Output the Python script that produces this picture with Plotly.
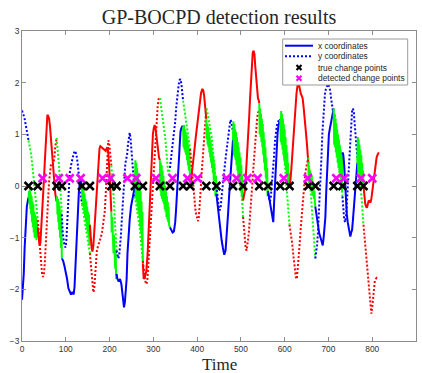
import plotly.graph_objects as go

# ---- data -------------------------------------------------------------
# (time, value) samples of the x coordinate track
x_track = [
    (0, -2.2), (2, -2.0), (4, -1.7), (6, -1.2), (8.5, -0.7), (11, -0.4), (13, -0.3), (15, -0.22),
    (16, -0.1), (17, -0.35), (18, -0.05), (19, -0.45), (20, -0.15), (21, -0.55), (22, -0.2), (23, -0.7),
    (24, -0.3), (25, -0.8), (26, -0.35), (27, -0.9), (28, -0.5), (29, -1.0), (30, -0.55), (31, -1.0),
    (32, -0.6), (33, -1.05), (34, -0.7), (35, -1.0), (36, -0.8),
    (38, -1.05), (40, -1.15), (42, -1.1), (44, -0.85), (46, -0.55), (48, -0.3), (50, 0.1), (52, 0.45),
    (54, 0.85), (56, 1.2), (58, 1.38), (60, 1.35), (62, 1.3), (64, 1.15), (66, 0.95), (68, 0.75),
    (70, 0.5), (72, 0.2), (74, 0.0), (76, -0.15), (79, -0.3),
    (80, -0.2), (81, -0.55), (82, -0.25), (83, -0.7), (84, -0.3), (85, -0.85), (86, -0.4), (87, -1.0),
    (88, -0.5), (89, -1.2), (90, -0.65), (91, -1.4),
    (94, -1.45), (97, -1.55), (100, -1.65), (103, -1.8), (106, -1.98), (109, -2.05), (112, -2.1),
    (115, -2.05), (118, -2.1), (120, -1.95), (122, -1.6), (124, -1.1), (126, -0.65), (128, -0.3),
    (130, -0.1), (132, 0.05), (134, 0.1), (137, 0.0),
    (138, -0.25), (139, -0.05), (140, -0.4), (141, -0.1), (142, -0.5), (143, -0.15), (144, -0.6),
    (145, -0.25), (146, -0.7), (147, -0.3), (148, -0.8), (149, -0.4), (150, -0.9), (151, -0.5),
    (152, -1.0), (153, -0.55), (154, -1.15), (155, -0.75),
    (157, -1.0), (159, -1.2), (161, -1.27), (163, -1.15), (165, -0.9), (167, -0.6), (169, -0.35),
    (171, -0.1), (173, 0.3), (175, 0.6), (177, 0.72), (179, 0.77), (182, 0.75), (185, 0.72),
    (188, 0.7), (191, 0.68), (193, 0.72), (195, 0.75), (197, 0.65), (199, 0.4), (201, 0.1), (204, -0.5),
    (205, -0.9), (206, -0.6), (207, -1.1), (208, -0.8), (209, -1.3), (210, -0.95), (211, -1.45),
    (212, -1.1), (213, -1.6), (214, -1.25), (215, -1.8), (216, -1.7),
    (218, -1.8), (221, -1.85), (224, -1.8), (227, -1.9), (229, -2.05), (231, -2.25), (233, -2.35),
    (235, -2.25), (237, -2.05), (239, -1.8), (241, -1.3), (243, -1.0), (246, -0.65), (249, -0.4),
    (252, -0.25), (255, -0.15), (258, 0.0),
    (259, 0.5), (260, -0.2), (261, 0.45), (262, -0.3), (263, 0.35), (264, -0.4), (265, 0.25),
    (266, -0.5), (267, 0.1), (268, -0.6), (269, 0.0), (270, -0.8), (271, -0.1), (272, -0.9),
    (273, -0.3), (274, -1.1), (275, -0.5), (276, -1.5),
    (278, -1.8), (281, -1.75), (284, -1.65), (287, -1.3), (289, -0.9), (291, -0.5), (293, -0.2),
    (295, 0.4), (297, 0.8), (299, 1.0), (301, 1.12), (303, 1.18), (305, 1.12), (307, 0.95),
    (309, 0.8), (311, 0.65), (313, 0.55), (315, 0.5),
    (316, -0.1), (317, 0.45), (318, -0.2), (319, 0.4), (320, -0.25), (321, 0.3), (322, -0.3),
    (323, 0.2), (324, -0.35), (325, 0.1), (326, -0.45), (327, 0.0), (328, -0.5), (329, -0.1),
    (330, -0.6), (331, -0.2), (332, -0.65), (333, -0.3), (334, -0.7), (335, -0.4), (336, -0.75),
    (338, -0.8),
    (341, -0.85), (344, -0.9), (347, -0.88), (350, -0.7), (352, -0.45), (354, -0.15), (356, 0.2),
    (358, 0.55), (360, 0.85), (362, 1.05), (364, 1.12), (366, 1.15), (368, 1.15),
    (369, 0.75), (370, 1.18), (371, 0.7), (372, 1.1), (373, 0.65), (374, 1.05), (375, 0.6),
    (376, 1.0), (377, 0.5), (378, 0.9), (379, 0.4), (380, 0.8), (381, 0.3), (382, 0.7), (383, 0.2),
    (384, 0.1),
    (386, 0.05), (388, 0.25), (390, 0.45), (393, 0.63), (397, 0.95), (401, 1.27), (405, 1.55),
    (409, 1.8), (412, 1.88), (414, 1.85), (416, 1.75), (418, 1.6), (420, 1.4), (421, 1.3),
    (422, 0.9), (423, 1.2), (424, 0.8), (425, 1.15), (426, 0.75), (427, 1.05), (428, 0.65),
    (429, 0.95), (430, 0.55), (431, 0.85), (432, 0.45), (433, 0.75), (434, 0.35), (435, 0.65),
    (436, 0.25), (437, 0.55), (438, 0.1), (439, 0.45), (440, 0.0), (441, 0.3), (442, -0.2),
    (443, 0.2), (444, -0.15),
    (447, -0.4), (450, -0.65), (453, -0.85), (456, -1.05), (459, -1.2), (462, -1.33), (465, -1.25),
    (467, -1.05), (469, -0.8), (471, -0.5), (473, -0.2), (475, 0.1), (477, 0.37), (479, 0.6),
    (481, 0.82), (482, 0.9),
    (483, 1.25), (484, 0.6), (485, 1.2), (486, 0.55), (487, 1.1), (488, 0.5), (489, 1.05),
    (490, 0.4), (491, 0.95), (492, 0.3), (493, 0.85), (494, 0.2), (495, 0.75), (496, 0.1),
    (497, 0.65), (498, 0.0), (499, 0.55), (500, -0.1), (501, 0.4), (502, -0.2), (503, 0.2),
    (504, -0.25), (505, -0.28),
    (507, -0.2), (509, -0.1), (511, 0.15), (513, 0.4), (515, 0.7), (517, 1.0), (519, 1.35),
    (521, 1.7), (523, 2.05), (525, 2.35), (527, 2.58), (529, 2.62), (531, 2.55), (533, 2.3),
    (535, 2.05), (537, 1.85), (539, 1.7), (541, 1.65), (542, 1.6),
    (543, 1.0), (544, 1.5), (545, 0.95), (546, 1.4), (547, 0.85), (548, 1.3), (549, 0.75),
    (550, 1.2), (551, 0.6), (552, 1.05), (553, 0.45), (554, 0.9), (555, 0.3), (556, 0.75),
    (557, 0.15), (558, 0.55), (559, 0.0), (560, 0.35), (561, -0.2), (562, -0.1),
    (564, -0.2), (566, -0.34), (568, -0.45), (570, -0.55), (572, -0.65), (574, -0.7), (576, -0.3),
    (578, 0.1), (580, 0.5), (582, 0.8), (584, 1.05), (586, 1.18), (588, 1.25), (590, 1.28),
    (591, 0.85), (592, 1.45), (593, 0.8), (594, 1.4), (595, 0.7), (596, 1.3), (597, 0.6),
    (598, 1.2), (599, 0.5), (600, 1.1), (601, 0.4), (602, 0.95), (603, 0.3), (604, 0.8),
    (605, 0.2), (606, 0.65), (607, 0.1), (608, 0.45), (609, 0.0), (610, 0.25), (611, 0.0),
    (613, 0.1), (615, 0.3), (617, 0.55), (619, 0.82), (621, 1.1), (623, 1.4), (625, 1.6),
    (627, 1.79), (629, 1.92), (631, 1.98), (633, 1.95), (635, 1.85), (637, 1.78), (639, 1.75),
    (641, 1.7), (643, 1.55), (645, 1.4), (647, 1.2), (649, 1.0), (651, 0.8), (653, 0.55),
    (654, 0.45),
    (655, 0.05), (656, 0.35), (657, 0.0), (658, 0.3), (659, -0.05), (660, 0.25), (661, -0.1),
    (662, 0.2), (663, -0.15), (664, 0.1), (665, -0.2), (666, 0.0), (667, -0.25), (668, -0.1),
    (669, -0.3), (670, -0.4),
    (673, -0.6), (676, -0.8), (679, -0.92), (682, -1.0), (685, -1.08), (687, -1.15), (689, -1.0),
    (691, -0.85), (693, -0.6), (695, -0.1), (697, 0.35), (699, 0.75), (701, 1.0), (703, 1.1),
    (705, 1.2), (707, 1.3), (709, 1.4), (711, 1.48), (712, 1.5),
    (713, 0.8), (714, 1.4), (715, 0.75), (716, 1.3), (717, 0.65), (718, 1.2), (719, 0.55),
    (720, 1.1), (721, 0.45), (722, 1.0), (723, 0.35), (724, 0.9), (725, 0.25), (726, 0.8),
    (727, 0.15), (728, 0.7), (729, 0.05), (730, 0.6), (731, -0.1), (732, 0.65),
    (734, 0.6), (736, 0.4), (738, 0.0), (740, -0.3), (742, -0.55), (744, -0.7), (746, -0.8),
    (748, -0.95), (750, -0.98), (752, -0.9), (754, -0.85), (756, -0.65), (758, -0.45),
    (760, -0.15), (762, 0.1), (764, 0.3), (766, 0.45),
    (767, 0.95), (768, 0.3), (769, 0.9), (770, 0.25), (771, 0.8), (772, 0.2), (773, 0.7),
    (774, 0.1), (775, 0.6), (776, 0.05), (777, 0.45), (778, 0.0), (779, 0.3), (780, 0.0),
    (782, -0.2), (784, -0.34), (786, -0.4), (788, -0.42), (790, -0.35), (792, -0.28), (794, -0.3),
    (796, -0.32), (798, -0.25), (800, -0.1), (802, 0.05), (804, 0.2), (806, 0.35), (808, 0.45),
    (810, 0.55), (812, 0.6), (815, 0.65),
]

# (time, value) samples of the y coordinate track
y_track = [
    (0, 1.46), (2, 1.42), (4, 1.36), (6, 1.3), (8, 1.2), (10, 1.1), (12, 1.0), (15, 0.88),
    (17, 0.8), (19, 0.7), (21, 0.6), (23, 0.45), (25, 0.3), (27, 0.15), (29, 0.0), (31, -0.2),
    (33, -0.4), (36, -0.66),
    (38, -0.9), (40, -1.15), (42, -1.4), (44, -1.6), (46, -1.72), (48, -1.76), (50, -1.7),
    (52, -1.5), (54, -1.1), (56, -0.75), (58, -0.5), (60, -0.2), (62, 0.1), (64, 0.3), (66, 0.4),
    (68, 0.42), (70, 0.4), (72, 0.45), (74, 0.55), (76, 0.75), (79, 0.93),
    (81, 0.78), (83, 0.55), (85, 0.35), (87, 0.1), (89, -0.2), (91, -0.55),
    (93, -0.9), (96, -1.1), (99, -1.19), (101, -1.1), (103, -0.75), (105, -0.3), (107, 0.0),
    (109, 0.25), (112, 0.4), (115, 0.55), (118, 0.63), (121, 0.68), (124, 0.62), (127, 0.45),
    (130, 0.25), (133, -0.05), (135, -0.2), (137, -0.35),
    (139, -0.45), (141, -0.55), (143, -0.65), (145, -0.75), (147, -0.85), (149, -0.95),
    (151, -1.05), (153, -1.15), (155, -1.3),
    (157, -1.5), (159, -1.75), (161, -1.95), (163, -2.06), (165, -2.0), (167, -1.75), (169, -1.45),
    (171, -1.25), (174, -1.15), (177, -1.08), (180, -1.0), (183, -0.88), (186, -0.7), (189, -0.5),
    (191, -0.2), (193, 0.2), (195, 0.6), (197, 0.88), (199, 0.85), (201, 0.7), (204, 0.4),
    (206, 0.2), (208, -0.05), (210, -0.3), (212, -0.65), (214, -0.95), (216, -1.25),
    (218, -1.35), (220, -1.4), (222, -1.35), (224, -1.2), (226, -0.95), (228, -0.65), (230, -0.35),
    (232, -0.05), (234, 0.2), (236, 0.43), (238, 0.52), (240, 0.6), (242, 0.8), (244, 1.0),
    (246, 1.03), (248, 0.92), (250, 0.72), (252, 0.5), (254, 0.2), (256, -0.05), (258, -0.2),
    (260, -0.3), (262, -0.4), (264, -0.5), (266, -0.6), (268, -0.75), (270, -0.9), (272, -1.05),
    (274, -1.25), (276, -1.45),
    (278, -1.6), (280, -1.75), (282, -1.85), (284, -1.9), (286, -1.85), (288, -1.6), (290, -1.3),
    (292, -1.0), (294, -0.6), (296, -0.3), (298, 0.0), (300, 0.25), (302, 0.55), (304, 0.85),
    (306, 1.1), (308, 1.35), (310, 1.55), (312, 1.68), (315, 1.7),
    (318, 1.52), (321, 1.35), (324, 1.14), (327, 0.95), (329, 0.75), (331, 0.5), (333, 0.32),
    (335, 0.22), (338, 0.35),
    (340, 0.5), (343, 0.72), (346, 0.9), (348, 1.05), (350, 1.25), (352, 1.5), (354, 1.7),
    (356, 1.85), (358, 1.97), (360, 2.05), (362, 2.07), (364, 1.98), (366, 1.8), (368, 1.65),
    (370, 1.53), (372, 1.45), (374, 1.34), (376, 1.25), (378, 1.14), (380, 1.0), (382, 0.88),
    (384, 0.72),
    (386, 0.5), (388, 0.3), (390, 0.1), (392, -0.1), (394, -0.3), (396, -0.45), (398, -0.55),
    (400, -0.63), (402, -0.68), (404, -0.6), (406, -0.4), (408, -0.1), (410, 0.2), (412, 0.45),
    (414, 0.7), (416, 1.0), (418, 1.2), (420, 1.4), (421, 1.5),
    (423, 1.45), (425, 1.35), (427, 1.27), (429, 1.15), (431, 1.05), (433, 0.95), (435, 0.8),
    (437, 0.65), (439, 0.45), (441, 0.3), (443, 0.1), (444, 0.0),
    (446, -0.15), (448, -0.3), (450, -0.45), (452, -0.47), (454, -0.4), (456, -0.2), (458, 0.0),
    (460, 0.15), (462, 0.3), (464, 0.45), (466, 0.6), (468, 0.75), (470, 0.9), (472, 1.1),
    (474, 1.22), (476, 1.28), (478, 1.25), (480, 1.15), (482, 1.05),
    (484, 1.0), (486, 0.92), (488, 0.8), (490, 0.68), (492, 0.55), (494, 0.45), (496, 0.35),
    (498, 0.25), (500, 0.1), (502, -0.15), (505, -0.6),
    (507, -0.85), (509, -1.05), (511, -1.2), (513, -1.25), (515, -1.15), (517, -1.0), (519, -0.8),
    (521, -0.6), (523, -0.35), (525, -0.1), (527, 0.15), (529, 0.4), (531, 0.65), (533, 0.85),
    (535, 1.05), (537, 1.3), (539, 1.42), (541, 1.46), (542, 1.46),
    (544, 1.4), (546, 1.25), (548, 1.1), (550, 0.95), (552, 0.8), (554, 0.62), (556, 0.45),
    (558, 0.25), (560, 0.05), (562, -0.15),
    (564, -0.25), (566, -0.3), (568, -0.25), (570, -0.05), (572, 0.1), (574, 0.35), (576, 0.6),
    (578, 0.88), (580, 1.05), (582, 1.17), (584, 1.22), (586, 1.27), (588, 1.3), (590, 1.28),
    (592, 1.2), (594, 1.05), (596, 0.9), (598, 0.7), (600, 0.5), (602, 0.3), (604, 0.1),
    (606, -0.15), (608, -0.4), (610, -0.65), (611, -0.75),
    (614, -0.9), (617, -1.1), (620, -1.35), (623, -1.6), (626, -1.8), (628, -1.78), (630, -1.6),
    (632, -1.4), (634, -1.15), (636, -0.9), (638, -0.65), (640, -0.4), (642, -0.2), (644, 0.0),
    (646, 0.15), (648, 0.3), (650, 0.4), (652, 0.5), (654, 0.55),
    (656, 0.3), (658, 0.05), (660, -0.25), (662, -0.55), (664, -0.8), (666, -1.05), (668, -1.25),
    (670, -1.4),
    (672, -1.3), (674, -1.15), (676, -0.9), (678, -0.6), (680, -0.25), (682, 0.15), (684, 0.55),
    (686, 1.0), (688, 1.3), (690, 1.6), (692, 1.78), (694, 1.87), (696, 1.92), (698, 1.96),
    (700, 1.97), (702, 1.92), (704, 1.85), (706, 1.7), (708, 1.55), (710, 1.4), (712, 1.35),
    (714, 1.4), (716, 1.3), (718, 1.15), (720, 1.0), (722, 0.85), (724, 0.65), (726, 0.45),
    (728, 0.25), (730, 0.05), (732, -0.2),
    (734, -0.45), (736, -0.65), (738, -0.7), (740, -0.6), (742, -0.35), (744, 0.0), (746, 0.3),
    (748, 0.6), (750, 0.9), (752, 1.25), (754, 1.45), (756, 1.5), (758, 1.42), (760, 1.2),
    (762, 0.95), (764, 0.7), (766, 0.55),
    (768, 0.4), (770, 0.25), (772, 0.1), (774, -0.05), (776, -0.25), (778, -0.5), (780, -0.75),
    (782, -0.95), (784, -1.18), (786, -1.4), (788, -1.57), (790, -1.8), (792, -2.0), (794, -2.2),
    (796, -2.35), (798, -2.47), (800, -2.35), (802, -2.15), (804, -1.95), (806, -1.83),
    (808, -1.8), (810, -1.78), (812, -1.8),
]

true_change_points = [15, 36, 79, 91, 137, 155, 204, 216, 258, 276, 315, 338, 368, 384,
                      421, 444, 482, 505, 542, 562, 590, 611, 654, 670, 712, 732, 766, 780]
detected_change_points = [47, 84, 109, 134, 184, 202, 241, 261, 306, 344, 378, 401, 467, 490,
                          515, 538, 598, 653, 718, 736, 774, 800]
# regime label of every segment between consecutive change points
segment_regime = ["b", "g", "r", "g", "b", "g", "r", "g", "b", "g", "r", "g", "b", "g", "r",
                  "g", "b", "g", "r", "g", "b", "g", "r", "g", "b", "g", "b", "g", "r"]
true_level = 0.0
detected_level = 0.15

REGIME_COLOR = {"b": "#0000ff", "g": "#00ff00", "r": "#ff0000"}

# ---- figure -----------------------------------------------------------
fig = go.Figure()

end_time = max(x_track[-1][0], y_track[-1][0])
bounds = [0] + true_change_points + [end_time]


def clip(track, a, b):
    pts = [(t, v) for t, v in track if a <= t <= b]
    return [p[0] for p in pts], [p[1] for p in pts]


for i, reg in enumerate(segment_regime):
    a, b = bounds[i], bounds[i + 1]
    col = REGIME_COLOR[reg]
    tx, vx = clip(x_track, a, b)
    fig.add_trace(go.Scatter(x=tx, y=vx, mode="lines", showlegend=False, hoverinfo="skip",
                             line=dict(color=col, width=2)))
    ty, vy = clip(y_track, a, b)
    fig.add_trace(go.Scatter(x=ty, y=vy, mode="lines", showlegend=False, hoverinfo="skip",
                             line=dict(color=col, width=2, dash="2px,2px")))

fig.add_trace(go.Scatter(
    x=true_change_points, y=[true_level] * len(true_change_points), mode="markers",
    showlegend=False,
    marker=dict(symbol="x-thin", size=8, color="black", line=dict(color="black", width=2.5))))
fig.add_trace(go.Scatter(
    x=detected_change_points, y=[detected_level] * len(detected_change_points), mode="markers",
    showlegend=False,
    marker=dict(symbol="x-thin", size=8, color="#ff00ff", line=dict(color="#ff00ff", width=2.5))))

# ---- hand-built legend (compact MATLAB-like box) ----------------------
W, H = 422, 373
ML, MR, MT, MB = 22, 6, 31, 32
pw, ph = W - ML - MR, H - MT - MB


def px(xp):
    return (xp - ML) / pw


def py(yp):
    return (H - MB - yp) / ph


shapes = [dict(type="rect", xref="paper", yref="paper", x0=px(282.7), x1=px(407.7),
               y0=py(85), y1=py(39), line=dict(color="#9a9a9a", width=1), fillcolor="white",
               layer="above")]
rows = [45.7, 56.2, 67.5, 78.3]
shapes.append(dict(type="line", xref="paper", yref="paper", x0=px(285), x1=px(313),
                   y0=py(rows[0]), y1=py(rows[0]), line=dict(color="#0000ff", width=2), layer="above"))
shapes.append(dict(type="line", xref="paper", yref="paper", x0=px(285), x1=px(313),
                   y0=py(rows[1]), y1=py(rows[1]), line=dict(color="#0000ff", width=2, dash="2px,2px"),
                   layer="above"))
for r, c in ((rows[2], "black"), (rows[3], "#ff00ff")):
    d = 2.5
    shapes.append(dict(type="line", xref="paper", yref="paper", x0=px(299 - d), x1=px(299 + d),
                       y0=py(r - d), y1=py(r + d), line=dict(color=c, width=2.2), layer="above"))
    shapes.append(dict(type="line", xref="paper", yref="paper", x0=px(299 - d), x1=px(299 + d),
                       y0=py(r + d), y1=py(r - d), line=dict(color=c, width=2.2), layer="above"))

legend_labels = ["x coordinates", "y coordinates", "true change points", "detected change points"]
annotations = []
for r, lab in zip(rows, legend_labels):
    annotations.append(dict(text=lab, xref="paper", yref="paper", x=px(315.5), y=py(r),
                            xanchor="left", yanchor="middle", showarrow=False,
                            font=dict(family="Liberation Sans, Arial", size=8.4, color="#262626")))

annotations.append(dict(text="Time", xref="paper", yref="paper", x=0.5, y=py(364),
                        xanchor="center", yanchor="middle", showarrow=False,
                        font=dict(family="Liberation Serif, Times New Roman, serif", size=17,
                                  color="#262626")))

axis_common = dict(showline=True, linecolor="#8c8c8c", linewidth=1, mirror="ticks",
                   ticks="inside", ticklen=4, tickcolor="#8c8c8c", tickwidth=1,
                   showgrid=False, zeroline=False,
                   tickfont=dict(family="Liberation Sans, Arial", size=8.4, color="#333333"))

fig.update_layout(
    width=W, height=H,
    margin=dict(l=ML, r=MR, t=MT, b=MB),
    paper_bgcolor="white", plot_bgcolor="white",
    title=dict(text="GP-BOCPD detection results", x=0.5, xref="paper", xanchor="center",
               y=1 - 17 / H, yref="container", yanchor="middle",
               font=dict(family="Liberation Serif, Times New Roman, serif", size=20, color="#262626")),
    xaxis=dict(range=[0, 900], tickmode="array", tickvals=list(range(0, 901, 100)), **axis_common),
    yaxis=dict(range=[-3, 3], tickmode="array", tickvals=[-3, -2, -1, 0, 1, 2, 3], **axis_common),
    shapes=shapes, annotations=annotations,
    showlegend=False,
)

fig.write_html("out.html")
